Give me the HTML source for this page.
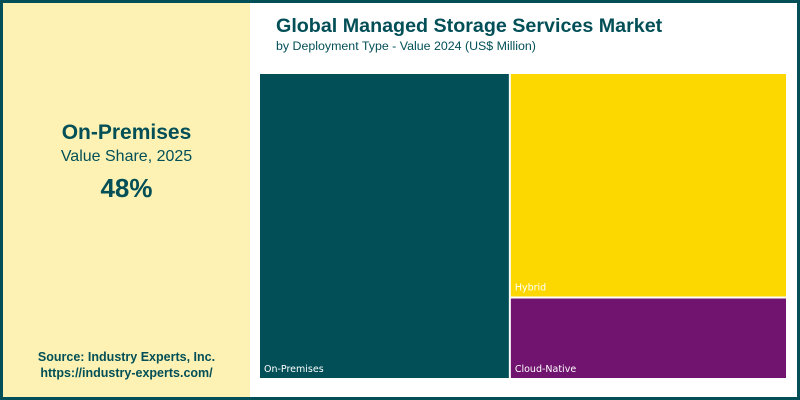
<!DOCTYPE html>
<html><head><meta charset="utf-8"><style>
body{margin:0;width:800px;height:400px;overflow:hidden;font-family:"Liberation Sans",sans-serif;}
#frame{position:absolute;left:0;top:0;width:794px;height:394px;border:3px solid #024f57;background:#fff;}
#left{position:absolute;left:0;top:0;width:247px;height:394px;background:#fdf2b3;color:#024f57;text-align:center;}
.t{position:absolute;white-space:nowrap;}
</style></head><body>
<div id="frame">
<div id="left">
<div class="t" style="left:0;width:247px;top:118px;font-size:21px;font-weight:bold;">On-Premises</div>
<div class="t" style="left:0;width:247px;top:145px;font-size:16px;">Value Share, 2025</div>
<div class="t" style="left:0;width:247px;top:170px;font-size:26px;font-weight:bold;">48%</div>
<div class="t" style="left:0;width:247px;top:346px;font-size:12.5px;font-weight:bold;line-height:16px;">Source: Industry Experts, Inc.<br>https://industry-experts.com/</div>
</div>
<div class="t" style="left:273px;top:12px;font-size:19.7px;font-weight:bold;color:#024f57;">Global Managed Storage Services Market</div>
<div class="t" style="left:273px;top:36px;font-size:12.4px;color:#024f57;">by Deployment Type - Value 2024 (US$ Million)</div>
<svg id="tm" style="position:absolute;left:0;top:0" width="794" height="394"></svg>
</div>
<script>
const categories=["On-Premises","Hybrid","Cloud-Native"];
const values=[47.5,38.6,13.9];
const colors=["#024f57","#fdd800","#70146f"];
const svg=document.getElementById('tm');
const X0=257,Y0=71,W=526,H=304,gap=2;
const total=values.reduce((a,b)=>a+b,0);
function rect(x,y,w,h,i){
  const r=document.createElementNS('http://www.w3.org/2000/svg','rect');
  r.setAttribute('x',x);r.setAttribute('y',y);r.setAttribute('width',Math.max(0,w));r.setAttribute('height',Math.max(0,h));r.setAttribute('fill',colors[i]);
  
  
  svg.appendChild(r);
  const t=document.createElementNS('http://www.w3.org/2000/svg','text');
  t.setAttribute('x',x+4);t.setAttribute('y',y+h-6);t.setAttribute('fill','#fff');t.setAttribute('font-size','9.5');
  t.setAttribute('font-family','"DejaVu Sans",sans-serif');
  t.textContent=categories[i];
  
  
  svg.appendChild(t);
}
const w0=W*values[0]/total;
rect(X0,Y0,w0-gap/2,H,0);
const rest=total-values[0];
let y=Y0;
for(let i=1;i<values.length;i++){
  const h=H*values[i]/rest;
  const top=y+(i>1?gap/2:0);
  const hh=h-(i<values.length-1?gap/2:0)-(i>1?gap/2:0);
  rect(X0+w0+gap/2,top,W-w0-gap/2,hh,i);
  y+=h;
}
</script>
</body></html>
